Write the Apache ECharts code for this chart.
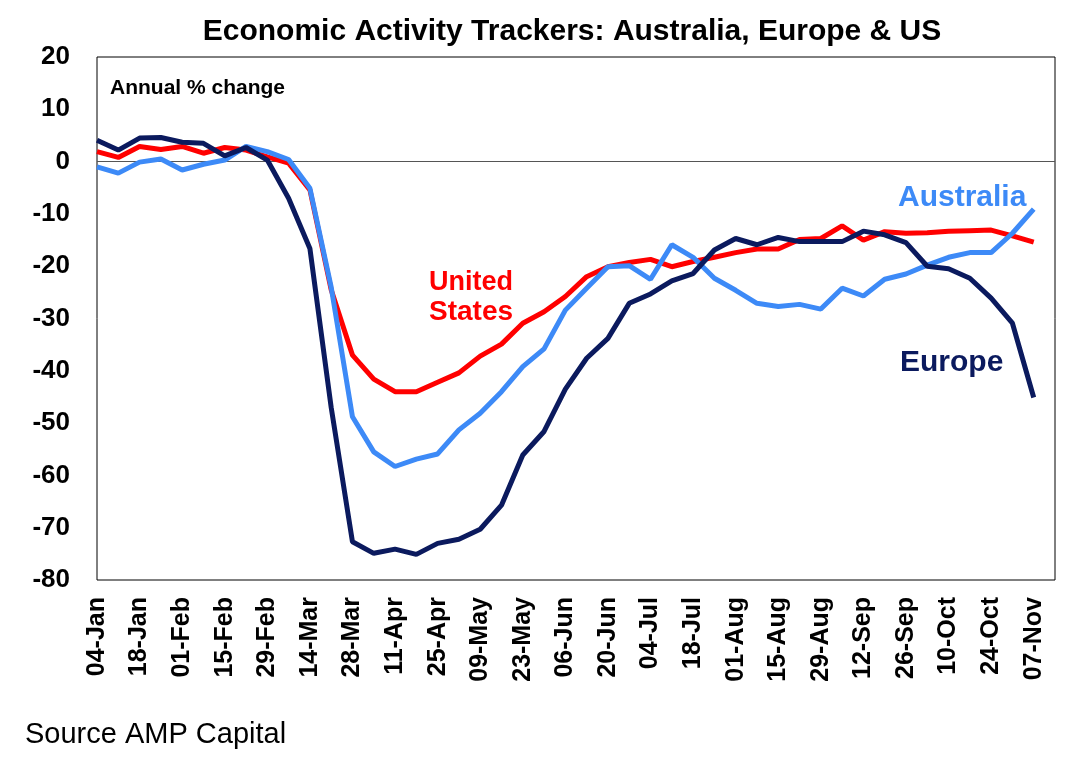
<!DOCTYPE html>
<html>
<head>
<meta charset="utf-8">
<script src="https://cdn.jsdelivr.net/npm/echarts@6/dist/echarts.min.js"></script>
<style>
  html, body { margin: 0; padding: 0; background: #fff; }
  #chart { width: 1076px; height: 765px; }
</style>
</head>
<body>
<div id="chart"></div>
<script>
// weekly tracker readings, annual % change
const weeks = ['04-Jan', '11-Jan', '18-Jan', '25-Jan', '01-Feb', '08-Feb', '15-Feb', '22-Feb', '29-Feb',
  '07-Mar', '14-Mar', '21-Mar', '28-Mar', '04-Apr', '11-Apr', '18-Apr', '25-Apr', '02-May', '09-May',
  '16-May', '23-May', '30-May', '06-Jun', '13-Jun', '20-Jun', '27-Jun', '04-Jul', '11-Jul', '18-Jul',
  '25-Jul', '01-Aug', '08-Aug', '15-Aug', '22-Aug', '29-Aug', '05-Sep', '12-Sep', '19-Sep', '26-Sep',
  '03-Oct', '10-Oct', '17-Oct', '24-Oct', '31-Oct', '07-Nov'];

const australia = [-1.0, -2.2, -0.1, 0.5, -1.6, -0.5, 0.3, 2.9, 1.9, 0.4,
  -5.1, -24.0, -48.8, -55.5, -58.3, -56.9, -55.9, -51.3, -48.1, -44.0,
  -39.2, -35.8, -28.4, -24.2, -20.1, -19.9, -22.5, -15.9, -18.3, -22.3,
  -24.6, -27.1, -27.7, -27.3, -28.2, -24.2, -25.7, -22.5, -21.5, -19.8,
  -18.3, -17.4, -17.4, -13.7, -9.1];

const unitedStates = [1.9, 0.8, 2.9, 2.3, 2.9, 1.6, 2.7, 2.2, 0.9, -0.3,
  -5.4, -24.5, -37.0, -41.6, -44.0, -44.0, -42.2, -40.4, -37.2, -34.9,
  -30.9, -28.7, -25.8, -22.0, -20.1, -19.3, -18.7, -20.1, -19.1, -18.3,
  -17.4, -16.7, -16.7, -14.9, -14.7, -12.3, -15.0, -13.4, -13.7, -13.6,
  -13.3, -13.2, -13.1, -14.2, -15.4];

const europe = [4.1, 2.2, 4.5, 4.6, 3.7, 3.5, 1.1, 2.7, 0.3, -7.0,
  -16.6, -47.0, -72.7, -74.9, -74.1, -75.1, -73.0, -72.2, -70.3, -65.7,
  -56.1, -51.6, -43.5, -37.6, -33.8, -27.1, -25.3, -22.8, -21.4, -16.9,
  -14.7, -15.9, -14.5, -15.3, -15.3, -15.3, -13.3, -14.0, -15.5, -20.0,
  -20.5, -22.3, -26.1, -30.9, -45.1];

const FONT = '"Liberation Sans", Arial, sans-serif';
const colAus = '#3D8AF7';
const colUS = '#FF0000';
const colEur = '#0B1A5E';

// pair each value with its week index for the value-type x axis
function toPoints(arr) {
  return arr.map((v, i) => [i, v]);
}

function line(name, arr, color) {
  return {
    name: name,
    type: 'line',
    data: toPoints(arr),
    symbol: 'none',
    smooth: false,
    lineStyle: { color: color, width: 5 },
    itemStyle: { color: color },
    animation: false,
    z: 3
  };
}

const chart = echarts.init(document.getElementById('chart'), null, { renderer: 'canvas' });

const option = {
  backgroundColor: '#fff',
  animation: false,
  grid: {
    left: 97, right: 21, top: 57, bottom: 185,
    show: true, borderColor: '#000', borderWidth: 1,
    containLabel: false
  },
  xAxis: {
    type: 'value',
    min: 0,
    max: 45,
    interval: 2,
    axisLine: { show: false },
    axisTick: { show: false },
    splitLine: { show: false },
    axisLabel: {
      rotate: 90,
      margin: 17,
      color: '#000',
      fontFamily: FONT,
      fontWeight: 'bold',
      fontSize: 25,
      showMaxLabel: false,
      formatter: function (v) { return weeks[v] || ''; }
    }
  },
  yAxis: {
    type: 'value',
    min: -80,
    max: 20,
    interval: 10,
    axisLine: { show: false },
    axisTick: { show: false },
    splitLine: { show: false },
    axisLabel: {
      margin: 27,
      color: '#000',
      fontFamily: FONT,
      fontWeight: 'bold',
      fontSize: 26
    }
  },
  series: [
    Object.assign(line('United States', unitedStates, colUS), {
      markLine: {
        silent: true,
        symbol: 'none',
        label: { show: false },
        lineStyle: { color: '#555', width: 1, type: 'solid' },
        data: [{ yAxis: 0 }],
        z: 1
      }
    }),
    line('Australia', australia, colAus),
    line('Europe', europe, colEur)
  ],
  graphic: [
    { type: 'text', x: 572, y: 32, z: 10,
      style: { text: 'Economic Activity Trackers: Australia, Europe & US', font: 'bold 30px ' + FONT,
        fill: '#000', textAlign: 'center', textVerticalAlign: 'middle' } },
    { type: 'text', x: 110, y: 88, z: 10,
      style: { text: 'Annual % change', font: 'bold 21px ' + FONT,
        fill: '#000', textAlign: 'left', textVerticalAlign: 'middle' } },
    { type: 'text', x: 898, y: 198, z: 10,
      style: { text: 'Australia', font: 'bold 30px ' + FONT,
        fill: colAus, textAlign: 'left', textVerticalAlign: 'middle' } },
    { type: 'text', x: 429, y: 283, z: 10,
      style: { text: 'United', font: 'bold 27px ' + FONT,
        fill: colUS, textAlign: 'left', textVerticalAlign: 'middle' } },
    { type: 'text', x: 429, y: 312, z: 10,
      style: { text: 'States', font: 'bold 28px ' + FONT,
        fill: colUS, textAlign: 'left', textVerticalAlign: 'middle' } },
    { type: 'text', x: 900, y: 363, z: 10,
      style: { text: 'Europe', font: 'bold 30px ' + FONT,
        fill: colEur, textAlign: 'left', textVerticalAlign: 'middle' } },
    { type: 'text', x: 25, y: 735, z: 10,
      style: { text: 'Source AMP Capital', font: '29px ' + FONT,
        fill: '#000', textAlign: 'left', textVerticalAlign: 'middle' } }
  ]
};

chart.setOption(option);
</script>
</body>
</html>
